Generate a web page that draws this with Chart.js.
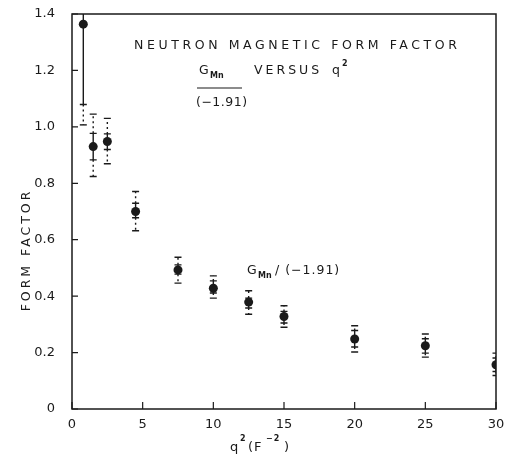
<!DOCTYPE html>
<html>
<head>
<meta charset="utf-8">
<script src="https://cdn.jsdelivr.net/npm/chart.js@4"></script>
<style>
  html, body { margin: 0; padding: 0; background: #fff; }
  canvas { display: block; }
</style>
</head>
<body>
<canvas id="c" width="506" height="459"></canvas>
<script>
// ---- data ----
const q2      = [0.8, 1.5, 2.5, 4.5, 7.5, 10, 12.5, 15, 20, 25, 30];
const gmn     = [1.364, 0.930, 0.948, 0.700, 0.493, 0.428, 0.379, 0.328, 0.248, 0.224, 0.157];
const statHi  = [1.650, 0.977, 0.975, 0.729, 0.511, 0.454, 0.393, 0.346, 0.278, 0.249, 0.181];
const statLo  = [1.079, 0.883, 0.920, 0.678, 0.478, 0.411, 0.358, 0.305, 0.220, 0.198, 0.133];
const totHi   = [1.650, 1.045, 1.030, 0.771, 0.538, 0.472, 0.419, 0.366, 0.295, 0.266, 0.198];
const totLo   = [1.007, 0.824, 0.869, 0.632, 0.446, 0.393, 0.336, 0.290, 0.202, 0.184, 0.119];
const xTicks  = [0, 5, 10, 15, 20, 25, 30];
const yTicks  = [0, 0.2, 0.4, 0.6, 0.8, 1.0, 1.2, 1.4];

const INK = '#1a1a1a';
const FONT = '"DejaVu Sans", sans-serif';

const points = q2.map((x, i) => ({ x: x, y: gmn[i] }));

const decor = {
  id: 'decor',
  beforeDatasetsDraw(chart) {
    const ctx = chart.ctx, xs = chart.scales.x, ys = chart.scales.y, a = chart.chartArea;
    ctx.save();
    ctx.beginPath();
    ctx.rect(a.left, a.top, a.right - a.left, a.bottom - a.top);
    ctx.clip();
    ctx.strokeStyle = INK;
    const cap = 3.5;
    q2.forEach((xv, i) => {
      const px = xs.getPixelForValue(xv);
      const yH = ys.getPixelForValue(statHi[i]);
      const yL = ys.getPixelForValue(statLo[i]);
      const tH = ys.getPixelForValue(totHi[i]);
      const tL = ys.getPixelForValue(totLo[i]);
      ctx.setLineDash([]);
      ctx.lineWidth = 1.4;
      ctx.beginPath();
      ctx.moveTo(px, yH); ctx.lineTo(px, yL);
      ctx.moveTo(px - cap, yH); ctx.lineTo(px + cap, yH);
      ctx.moveTo(px - cap, yL); ctx.lineTo(px + cap, yL);
      ctx.stroke();
      ctx.setLineDash([2, 3]);
      ctx.beginPath();
      ctx.moveTo(px, yH); ctx.lineTo(px, tH);
      ctx.moveTo(px, yL); ctx.lineTo(px, tL);
      ctx.stroke();
      ctx.setLineDash([]);
      ctx.beginPath();
      if (totHi[i] !== statHi[i]) { ctx.moveTo(px - cap, tH); ctx.lineTo(px + cap, tH); }
      ctx.moveTo(px - cap, tL); ctx.lineTo(px + cap, tL);
      ctx.stroke();
    });
    ctx.restore();
  },
  afterDraw(chart) {
    const ctx = chart.ctx, xs = chart.scales.x, ys = chart.scales.y, a = chart.chartArea;
    ctx.save();
    ctx.strokeStyle = INK;
    ctx.lineWidth = 1.5;
    ctx.strokeRect(a.left, a.top, a.right - a.left, a.bottom - a.top);
    ctx.lineWidth = 1.2;
    ctx.beginPath();
    xTicks.forEach(v => {
      const px = xs.getPixelForValue(v);
      ctx.moveTo(px, a.bottom); ctx.lineTo(px, a.bottom - 7);
    });
    yTicks.forEach(v => {
      const py = ys.getPixelForValue(v);
      ctx.moveTo(a.left, py); ctx.lineTo(a.left + 6, py);
    });
    ctx.stroke();

    ctx.fillStyle = INK;
    ctx.textBaseline = 'alphabetic';
    ctx.textAlign = 'left';
    // title
    ctx.font = '12.5px ' + FONT;
    ctx.letterSpacing = '3.6px';
    ctx.fillText('NEUTRON MAGNETIC FORM FACTOR', 134, 49);
    // fraction G_Mn / (-1.91)
    ctx.letterSpacing = '1px';
    ctx.fillText('G', 199, 74);
    ctx.font = 'bold 8px ' + FONT;
    ctx.letterSpacing = '0px';
    ctx.fillText('Mn', 210, 78);
    ctx.lineWidth = 1.2;
    ctx.beginPath(); ctx.moveTo(197, 88); ctx.lineTo(242, 88); ctx.stroke();
    ctx.font = '12.5px ' + FONT;
    ctx.letterSpacing = '0.5px';
    ctx.fillText('(\u22121.91)', 196, 106);
    ctx.letterSpacing = '3px';
    ctx.fillText('VERSUS', 254, 74);
    ctx.fillText('q', 332, 74);
    ctx.font = 'bold 8px ' + FONT;
    ctx.fillText('2', 342, 66);
    // in-plot label
    ctx.font = '12.5px ' + FONT;
    ctx.letterSpacing = '1px';
    ctx.fillText('G', 247, 274);
    ctx.font = 'bold 8px ' + FONT;
    ctx.letterSpacing = '0px';
    ctx.fillText('Mn', 258, 278);
    ctx.font = '12.5px ' + FONT;
    ctx.letterSpacing = '1px';
    ctx.fillText('/ (\u22121.91)', 275, 274);
    // x-axis title
    ctx.letterSpacing = '1px';
    ctx.font = '13px ' + FONT;
    ctx.fillText('q', 230, 451);
    ctx.font = 'bold 8px ' + FONT;
    ctx.fillText('2', 240, 441);
    ctx.font = '13px ' + FONT;
    ctx.fillText('(F', 248, 451);
    ctx.font = 'bold 8px ' + FONT;
    ctx.fillText('\u22122', 266, 441);
    ctx.font = '13px ' + FONT;
    ctx.fillText(')', 284, 451);
    // y-axis title
    ctx.translate(30, 250);
    ctx.rotate(-Math.PI / 2);
    ctx.textAlign = 'center';
    ctx.letterSpacing = '3px';
    ctx.font = '12.5px ' + FONT;
    ctx.fillText('FORM FACTOR', 0, 0);
    ctx.restore();
  }
};

new Chart(document.getElementById('c'), {
  type: 'scatter',
  data: {
    datasets: [{
      data: points,
      pointRadius: 4.5,
      pointHoverRadius: 4.5,
      pointBackgroundColor: INK,
      pointBorderColor: INK,
      pointBorderWidth: 0,
      showLine: false
    }]
  },
  options: {
    responsive: false,
    animation: false,
    devicePixelRatio: 1,
    layout: { padding: { top: 14, right: 10, left: 0, bottom: 0 } },
    plugins: { legend: { display: false }, tooltip: { enabled: false } },
    scales: {
      x: {
        type: 'linear', min: 0, max: 30,
        afterBuildTicks: s => { s.ticks = xTicks.map(v => ({ value: v })); },
        afterFit: s => { s.height = 50; s.paddingLeft = 0; s.paddingRight = 0; },
        grid: { display: false, drawTicks: false },
        border: { display: false },
        ticks: { color: INK, font: { family: FONT, size: 13 }, padding: 8,
                 callback: v => String(v) }
      },
      y: {
        min: 0, max: 1.4,
        afterBuildTicks: s => { s.ticks = yTicks.map(v => ({ value: v })); },
        afterFit: s => { s.width = 72; s.paddingTop = 0; s.paddingBottom = 0; },
        grid: { display: false, drawTicks: false },
        border: { display: false },
        ticks: { color: INK, font: { family: FONT, size: 13 }, padding: 17,
                 callback: v => v === 0 ? '0' : Number(v).toFixed(1) }
      }
    }
  },
  plugins: [decor]
});
</script>
</body>
</html>
